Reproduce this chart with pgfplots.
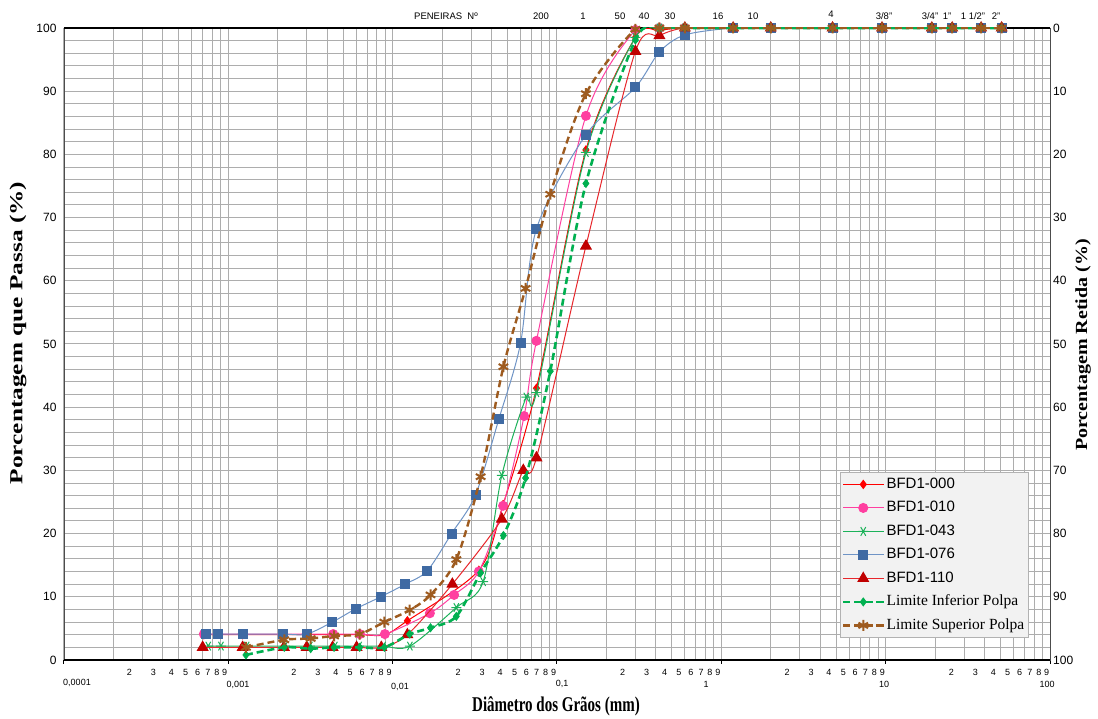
\documentclass[border=0pt]{standalone}
\usepackage{fontspec}
\setmainfont{Liberation Serif}
\setsansfont{Liberation Sans}
\usepackage{graphicx}
\usepackage{pgfplots}
\usepackage{pgfplotstable}
\pgfplotsset{compat=1.18}
\definecolor{cRed}{HTML}{FF0000}
\definecolor{cPink}{HTML}{FF3FA0}
\definecolor{cGreen}{HTML}{1CB25A}
\definecolor{cGreenD}{HTML}{00B050}
\definecolor{cBlueL}{HTML}{6F94C6}
\definecolor{cBlueM}{HTML}{3F6AA3}
\definecolor{cTriL}{HTML}{E8262B}
\definecolor{cTriM}{HTML}{C00000}
\definecolor{cBrown}{HTML}{9E5B1F}
\definecolor{cGrid}{HTML}{ADADAD}

\pgfplotstableread{
x y
0.000710 4.0
0.001222 4.0
0.002139 4.0
0.002995 4.0
0.004346 4.0
0.006318 4.0
0.008966 4.0
0.01229 6.2
0.03344 14.2
0.04700 24.6
0.0750 43.0
0.150 80.7
0.300 98.5
0.420 99.6
0.600 100
1.18 100
2.00 100
4.75 100
9.50 100
19.1 100
25.4 100
38.1 100
50.8 100
}\tabA

\pgfplotstableread{
x y
0.000710 4.1
0.001222 4.1
0.002139 4.1
0.002995 4.1
0.004346 4.1
0.006318 4.1
0.008966 4.1
0.01684 7.4
0.02366 10.3
0.03344 14.0
0.04700 24.4
0.06308 38.6
0.0750 50.5
0.150 86.1
0.300 99.7
0.420 100
0.600 100
1.18 100
2.00 100
4.75 100
9.50 100
19.1 100
25.4 100
38.1 100
50.8 100
}\tabB

\pgfplotstableread{
x y
0.000755 2.2
0.000902 2.2
0.001292 2.2
0.002210 2.2
0.003135 2.2
0.004450 2.2
0.006255 2.2
0.008753 2.2
0.01273 2.2
0.02440 8.3
0.03553 12.4
0.04616 29.2
0.06506 41.6
0.0750 42.3
0.150 80.3
0.300 98.5
0.420 100
0.600 100
1.18 100
2.00 100
4.75 100
9.50 100
19.1 100
25.4 100
38.1 100
50.8 100
}\tabC

\pgfplotstableread{
x y
0.000731 4.1
0.000861 4.1
0.001222 4.1
0.002139 4.1
0.002995 4.1
0.004290 6.0
0.005970 8.1
0.008470 10.0
0.01191 12.0
0.01622 14.1
0.02282 20.0
0.03193 26.1
0.04426 38.1
0.05998 50.1
0.0750 68.2
0.150 83.1
0.300 90.6
0.420 96.2
0.600 98.9
1.18 100
2.00 100
4.75 100
9.50 100
19.1 100
25.4 100
38.1 100
50.8 100
}\tabD

\pgfplotstableread{
x y
0.000698 2.0
0.001222 2.0
0.002179 2.0
0.002995 2.0
0.004309 2.0
0.006032 2.0
0.008536 2.0
0.01229 4.0
0.02308 12.0
0.04616 22.3
0.06237 30.0
0.0750 32.0
0.150 65.5
0.300 96.3
0.420 98.8
0.600 100
1.18 100
2.00 100
4.75 100
9.50 100
19.1 100
25.4 100
38.1 100
50.8 100
}\tabE

\pgfplotstableread{
x y
0.00128 0.8
0.00219 2.0
0.00317 1.8
0.00440 2.0
0.00630 2.0
0.00890 2.0
0.0127 4.1
0.0170 5.1
0.0244 6.9
0.0343 13.8
0.0472 19.7
0.0644 28.8
0.0910 45.7
0.150 75.4
0.300 98.1
0.420 100
0.600 100
1.18 100
2.00 100
4.75 100
9.50 100
19.1 100
25.4 100
38.1 100
50.8 100
}\tabF

\pgfplotstableread{
x y
0.00128 2.0
0.00219 3.2
0.00317 3.4
0.00440 3.8
0.00630 4.1
0.00890 6.0
0.0127 7.9
0.0170 10.3
0.0244 15.9
0.0343 29.0
0.0472 46.4
0.0644 58.8
0.0910 73.7
0.150 89.6
0.300 99.8
0.420 100
0.600 100
1.18 100
2.00 100
4.75 100
9.50 100
19.1 100
25.4 100
38.1 100
50.8 100
}\tabG

\begin{document}
\begin{tikzpicture}
\fill[white] (-64pt,-59pt) rectangle (1034pt,660pt);
\begin{axis}[
  scale only axis, width=986pt, height=632pt,
  xmode=log, log basis x=10,
  xmin=1e-4, xmax=100, ymin=0, ymax=100,
  xtick={1e-4,1e-3,1e-2,1e-1,1,10,100}, xticklabels={},
  minor xtick={2e-4,3e-4,4e-4,5e-4,6e-4,7e-4,8e-4,9e-4,
               2e-3,3e-3,4e-3,5e-3,6e-3,7e-3,8e-3,9e-3,
               2e-2,3e-2,4e-2,5e-2,6e-2,7e-2,8e-2,9e-2,
               0.2,0.3,0.4,0.5,0.6,0.7,0.8,0.9,
               2,3,4,5,6,7,8,9,20,30,40,50,60,70,80,90},
  ytick={0,10,...,100}, minor ytick={2,4,...,98},
  xmajorgrids, xminorgrids, ymajorgrids, yminorgrids,
  major grid style={cGrid, line width=1pt},
  minor grid style={cGrid, line width=1pt},
  tick align=outside, major tick length=4pt, minor tick length=0pt,
  xtick pos=left, ytick pos=left,
  xtick style={black, line width=1pt},
  ytick style={draw=none},
  axis line style={gray!60!black, line width=0.8pt},
  /pgf/number format/assume math mode=true,
  yticklabel style={font=\fontsize{12}{12}\selectfont\sffamily},
  clip mode=individual,
  legend cell align=left,
  legend style={at={(0.9777,0.2975)}, anchor=north east, draw=gray!60, fill=gray!10,
    inner xsep=1.5pt, inner ysep=3pt, row sep=5pt,
    nodes={inner sep=2pt, text height=11pt, text depth=3.5pt}},
  legend image code/.code={\draw[mark repeat=2,mark phase=2,#1] plot coordinates {(0pt,0pt) (20pt,0pt) (40pt,0pt)};},
]
\draw[black, line width=1.4pt] (rel axis cs:0,0) -- (rel axis cs:1,0);
\draw[black, line width=1.4pt] (rel axis cs:0,1) -- (rel axis cs:1,1);

\addplot[cRed, line width=1pt, smooth, tension=0.5, mark=diamond*, mark size=4pt, mark options={solid, fill=cRed, draw=cRed}] table {\tabA};
\addlegendentry{\fontsize{15}{15}\selectfont\sffamily BFD1-000}
\addplot[cPink, line width=1pt, smooth, tension=0.5, mark=*, mark size=4.5pt, mark options={solid, fill=cPink, draw=cPink}] table {\tabB};
\addlegendentry{\fontsize{15}{15}\selectfont\sffamily BFD1-010}
\addplot[cGreen, line width=1pt, smooth, tension=0.5, mark=asterisk, mark size=5pt, mark options={solid, rotate=90, line width=1pt}] table {\tabC};
\addlegendentry{\fontsize{15}{15}\selectfont\sffamily BFD1-043}
\addplot[cBlueL, line width=1pt, smooth, tension=0.5, mark=square*, mark size=4.5pt, mark options={solid, fill=cBlueM, draw=cBlueM}] table {\tabD};
\addlegendentry{\fontsize{15}{15}\selectfont\sffamily BFD1-076}
\addplot[cTriL, line width=1pt, smooth, tension=0.5, mark=triangle*, mark size=6pt, mark options={solid, fill=cTriM, draw=cTriM}] table {\tabE};
\addlegendentry{\fontsize{15}{15}\selectfont\sffamily BFD1-110}
\addplot[cGreenD, line width=2.6pt, dash pattern=on 7pt off 4pt, smooth, tension=0.5, mark=diamond*, mark size=4pt, mark options={solid, line width=0.8pt, fill=cGreenD, draw=cGreenD}] table {\tabF};
\addlegendentry{\fontsize{15.5}{15.5}\selectfont Limite Inferior Polpa}
\addplot[cBrown, line width=2.4pt, dash pattern=on 7pt off 4pt, smooth, tension=0.5, mark=asterisk, mark size=5.5pt, mark options={solid, line width=2pt, draw=cBrown}] table {\tabG};
\addlegendentry{\fontsize{15.5}{15.5}\selectfont Limite Superior Polpa}
\end{axis}

\begin{scope}[x=1pt, y=-1pt, shift={(-64pt,660pt)}]
  % minor decade labels
  \foreach \k in {0,...,5}{
    \foreach \n in {2,...,9}{
      \pgfmathsetmacro\xx{64+164.4*(\k+log10(\n+0.5))}
      \node[font=\fontsize{9}{9}\selectfont\sffamily, inner sep=0pt] at (\xx,672) {\n};
    }
  }
  \begin{scope}[every node/.style={font=\fontsize{9}{9}\selectfont\sffamily, inner sep=0pt}]
    \node at (77,683) {0,0001};
    \node at (238,685) {0,001};
    \node at (400,687) {0,01};
    \node at (562,684) {0,1};
    \node at (706,684) {1};
    \node at (884,684) {10};
    \node at (1047,684) {100};
  \end{scope}
  % right axis labels
  \foreach \v in {0,10,...,100}{
    \pgfmathsetmacro\yy{28+6.32*\v}
    \node[anchor=west, font=\fontsize{12}{12}\selectfont\sffamily, inner sep=0pt] at (1053,\yy) {\v};
  }
  % sieve labels
  \begin{scope}[every node/.style={font=\fontsize{9.5}{9.5}\selectfont\sffamily, inner sep=0pt}]
    \node at (446,16) {PENEIRAS\ \ Nº};
    \node at (541,16) {200};
    \node at (583,16) {1};
    \node at (620,16) {50};
    \node at (644,16) {40};
    \node at (670,16) {30};
    \node at (718,16) {16};
    \node at (753,16) {10};
    \node at (831,14) {4};
    \node at (884,16) {3/8"};
    \node at (930,16) {3/4"};
    \node at (947,16) {1"};
    \node at (973,16) {1 1/2"};
    \node at (996,16) {2"};
  \end{scope}
  % titles
  \node[inner sep=0pt] at (556,706) {\fontsize{15}{15}\selectfont\bfseries\scalebox{1}[1.4]{Diâmetro dos Grãos (mm)}};
  \node[inner sep=0pt, rotate=90] at (18,333) {\fontsize{23}{23}\selectfont\bfseries\scalebox{1.1}[0.8]{Porcentagem que Passa (\%)}};
  \node[inner sep=0pt, rotate=90] at (1083,345) {\fontsize{20}{20}\selectfont\bfseries\scalebox{1}[0.85]{Porcentagem Retida (\%)}};
\end{scope}
\pgfresetboundingbox
\useasboundingbox (-64pt,-59pt) rectangle (1034pt,660pt);
\end{tikzpicture}
\end{document}
